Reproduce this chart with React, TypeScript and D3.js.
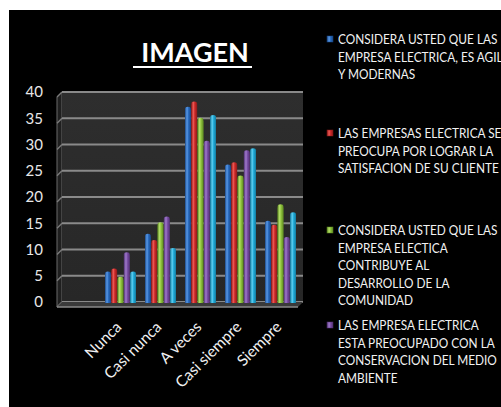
import React from "react";
import * as d3 from "d3";

const categories = ["", "Nunca", "Casi nunca", "A veces", "Casi siempre", "Siempre"];
const seriesA = [5.8, 13.0, 37.2, 26.2, 15.5];
const seriesB = [6.4, 11.8, 38.2, 26.6, 14.7];
const seriesC = [4.8, 15.2, 35.1, 24.1, 18.6];
const seriesD = [9.5, 16.3, 30.7, 28.9, 12.4];
const seriesE = [5.8, 10.3, 35.6, 29.3, 17.1];
const yTicks = [0, 5, 10, 15, 20, 25, 30, 35, 40];

const legendA = ["CONSIDERA USTED QUE LAS", "EMPRESA ELECTRICA, ES AGILES", "Y MODERNAS"];
const legendB = ["LAS EMPRESAS ELECTRICA SE", "PREOCUPA POR LOGRAR LA", "SATISFACION DE SU CLIENTE"];
const legendC = ["CONSIDERA USTED QUE LAS", "EMPRESA ELECTICA", "CONTRIBUYE AL", "DESARROLLO DE LA", "COMUNIDAD"];
const legendD = ["LAS EMPRESA ELECTRICA", "ESTA PREOCUPADO CON LA", "CONSERVACION DEL MEDIO", "AMBIENTE"];

const title = "IMAGEN";

const palette = [
  { base: "#2a6cc0", light: "#5b9ae6", dark: "#1b4a8a" },
  { base: "#cc2a2a", light: "#ee5a55", dark: "#8e1a1a" },
  { base: "#8ec23c", light: "#b6e06a", dark: "#5f8a22" },
  { base: "#7a4ea6", light: "#a07ccc", dark: "#533276" },
  { base: "#1fa9d6", light: "#5fd0f2", dark: "#137ba0" },
];

const FONT = "Lato, 'Open Sans', sans-serif";
const LEG_SIZE = 13.5;

function legendScale(): number {
  try {
    const c = document.createElement("canvas").getContext("2d");
    if (!c) return 0.88;
    c.font = `${LEG_SIZE}px Lato`;
    const w = c.measureText(legendA[0]).width;
    return w > 0 ? 160 / w : 0.88;
  } catch (e) {
    return 0.88;
  }
}

export default function App() {
  const series = [seriesA, seriesB, seriesC, seriesD, seriesE];
  const legends = [legendA, legendB, legendC, legendD];
  const sx = legendScale();

  const W = 501, H = 407;
  const wallL = 62, wallR = 303, depth = 5;
  const y = d3.scaleLinear().domain([0, 40]).range([302, 92]);
  const x = d3.scaleBand().domain(categories).range([60.5, 300.5]);
  const inner = d3.scaleBand<number>().domain([0, 1, 2, 3, 4]).range([0, 31]).paddingInner(0.08);
  const groupOff = (x.bandwidth() - 31) / 2;

  const legendStarts = [44, 138, 235, 330];
  const lineH = 17.6;

  return (
    <svg width={W} height={H} style={{ position: "absolute", left: 0, top: 0 }}>
      <defs>
        {palette.map((p, i) => (
          <linearGradient key={i} id={`g${i}`} x1="0" x2="1" y1="0" y2="0">
            <stop offset="0" stopColor={p.dark} />
            <stop offset="0.35" stopColor={p.light} />
            <stop offset="0.6" stopColor={p.base} />
            <stop offset="1" stopColor={p.dark} />
          </linearGradient>
        ))}
        <linearGradient id="wall" x1="0" x2="0" y1="0" y2="1">
          <stop offset="0" stopColor="#2e2e2e" />
          <stop offset="1" stopColor="#272727" />
        </linearGradient>
      </defs>
      <rect x={0} y={0} width={W} height={H} fill="#ffffff" />
      <rect x={9} y={10} width={W - 9} height={H - 10} fill="#000000" />

      {/* title */}
      <text x={195} y={62} textAnchor="middle" fill="#ffffff" fontFamily={FONT} fontWeight={700} fontSize={27}>
        {title}
      </text>
      <line x1={133} x2={252} y1={67} y2={67} stroke="#ffffff" strokeWidth={2} />

      {/* walls */}
      <polygon
        points={`${wallL - depth},${y(40) + depth} ${wallL},${y(40)} ${wallL},${y(0)} ${wallL - depth},${y(0) + depth}`}
        fill="#1f1f1f"
        stroke="#6a6a6a"
        strokeWidth={1}
      />
      <rect x={wallL} y={y(40)} width={wallR - wallL} height={y(0) - y(40)} fill="url(#wall)" />
      {yTicks.map((t) => (
        <g key={t}>
          <line x1={wallL - depth} y1={y(t) + depth} x2={wallL} y2={y(t)} stroke="#7a7a7a" strokeWidth={1.5} />
          <line x1={wallL} x2={wallR} y1={y(t)} y2={y(t)} stroke="#8a8a8a" strokeWidth={2} />
        </g>
      ))}
      {/* floor */}
      <polygon
        points={`${wallL},${y(0)} ${wallR},${y(0)} ${wallR - depth},${y(0) + depth} ${wallL - depth},${y(0) + depth}`}
        fill="#3a3a3a"
      />
      <line x1={wallL - depth} x2={wallR - depth} y1={y(0) + depth} y2={y(0) + depth} stroke="#8a8a8a" strokeWidth={1.5} />

      {/* y labels */}
      {yTicks.map((t) => (
        <text key={t} x={43} y={y(t)} dy="0.36em" textAnchor="end" fill="#e8e8e8" fontFamily={FONT} fontSize={15}>
          {t}
        </text>
      ))}

      {/* bars */}
      {categories.slice(1).map((c, ci) => (
        <g key={c} transform={`translate(${(x(c) as number) + groupOff},0)`}>
          {series.map((s, si) => {
            const bx = inner(si) as number;
            const bw = inner.bandwidth();
            const top = y(s[ci]);
            const bottom = y(0) + 1;
            return (
              <g key={si}>
                <rect x={bx} y={top} width={bw} height={bottom - top} rx={bw / 2} ry={2} fill={`url(#g${si})`} />
                <rect x={bx} y={top + 3} width={bw} height={bottom - top - 3} fill={`url(#g${si})`} />
              </g>
            );
          })}
        </g>
      ))}

      {/* x labels */}
      {categories.slice(1).map((c) => {
        const cx = (x(c) as number) + x.bandwidth() / 2 + 2;
        const cy = 328;
        return (
          <text
            key={c}
            transform={`translate(${cx},${cy}) rotate(-45)`}
            textAnchor="end"
            fill="#f0f0f0"
            fontFamily={FONT}
            fontSize={15.5}
          >
            {c}
          </text>
        );
      })}

      {/* legend */}
      {legends.map((lines, li) => (
        <g key={li}>
          <rect x={327} y={legendStarts[li] - 8} width={6} height={6} fill={`url(#g${li})`} stroke={palette[li].dark} strokeWidth={0.5} />
          <g transform={`translate(338,0) scale(${sx},1)`}>
            {lines.map((ln, k) => (
              <text key={k} x={0} y={legendStarts[li] + k * lineH} fill="#f2f2f2" fontFamily={FONT} fontSize={LEG_SIZE}>
                {ln}
              </text>
            ))}
          </g>
        </g>
      ))}
    </svg>
  );
}
